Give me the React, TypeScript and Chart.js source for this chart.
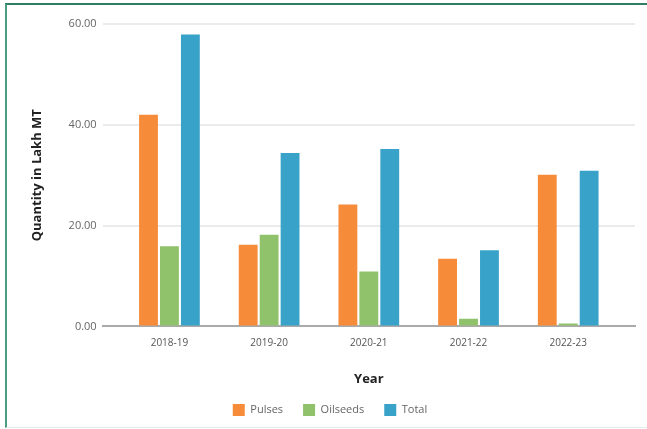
import React, { useEffect, useRef } from "react";
import { Chart, registerables } from "chart.js";

Chart.register(...registerables);

const categories = ["2018-19", "2019-20", "2020-21", "2021-22", "2022-23"];
const pulses = [42.0, 16.2, 24.2, 13.4, 30.1];
const oilseeds = [15.9, 18.2, 10.9, 1.5, 0.6];
const total = [57.9, 34.4, 35.2, 15.1, 30.9];
const yTicks = [0, 20, 40, 60];

const toPoints = (arr: number[]) => arr.map((v, i) => ({ x: i, y: v }));

export default function App() {
  const ref = useRef<HTMLCanvasElement | null>(null);
  useEffect(() => {
    if (!ref.current) return;
    const font = "'Open Sans', sans-serif";
    const chart = new Chart(ref.current, {
      type: "bar",
      data: {
        datasets: [
          { label: "Pulses", data: toPoints(pulses), backgroundColor: "#F68C3A" },
          { label: "Oilseeds", data: toPoints(oilseeds), backgroundColor: "#8FC26B" },
          { label: "Total", data: toPoints(total), backgroundColor: "#38A2C9" },
        ],
      },
      options: {
        animation: false,
        responsive: false,
        maintainAspectRatio: false,
        layout: { padding: { left: 13, right: 12, top: 18, bottom: 0 } },
        datasets: { bar: { categoryPercentage: 0.63, barPercentage: 0.9 } },
        plugins: {
          legend: {
            position: "bottom",
            labels: {
              boxWidth: 12,
              boxHeight: 12,
              padding: 20,
              color: "#666",
              font: { family: font, size: 11 },
            },
          },
          tooltip: { enabled: false },
        },
        scales: {
          x: {
            type: "linear",
            offset: false,
            bounds: "ticks",
            min: -0.67,
            max: 4.67,
            afterBuildTicks: (axis: any) => {
              axis.ticks = categories.map((_, i) => ({ value: i }));
            },
            ticks: {
              color: "#555",
              font: { family: font, size: 10 },
              padding: 11,
              callback: (v: any) => categories[Math.round(Number(v))] ?? "",
            },
            grid: { display: false, drawTicks: false, offset: false },
            border: { display: true, color: "#aaaaaa", width: 2 },
            title: {
              display: true,
              text: "Year",
              color: "#222",
              font: { family: font, size: 13, weight: "bold" },
              padding: { top: 11, bottom: -3 },
            },
          },
          y: {
            min: 0,
            max: 60,
            afterBuildTicks: (axis: any) => {
              axis.ticks = yTicks.map((v) => ({ value: v }));
            },
            ticks: {
              color: "#666",
              font: { family: font, size: 11 },
              padding: 6,
              callback: (v: any) => Number(v).toFixed(2),
            },
            grid: { color: "#ebebeb", lineWidth: 2, drawTicks: false },
            border: { display: false },
            title: {
              display: true,
              text: "Quantity in Lakh MT",
              color: "#222",
              font: { family: font, size: 13, weight: "bold" },
              padding: { top: 4, bottom: 18 },
            },
          },
        },
      },
    } as any);
    return () => chart.destroy();
  }, []);

  return (
    <div
      style={{
        position: "absolute",
        left: 0,
        top: 0,
        width: 647,
        height: 429,
        background: "#fff",
        overflow: "hidden",
      }}
    >
      <div
        style={{
          position: "absolute",
          left: 5,
          top: 3,
          width: 660,
          height: 425,
          boxSizing: "border-box",
          borderLeft: "2px solid #4b9e82",
          borderTop: "2px solid #2f7e63",
          borderBottom: "1px solid #dfece8",
        }}
      />
      <canvas
        ref={ref}
        width={635}
        height={420}
        style={{ position: "absolute", left: 12, top: 6, width: 635, height: 420 }}
      />
    </div>
  );
}
